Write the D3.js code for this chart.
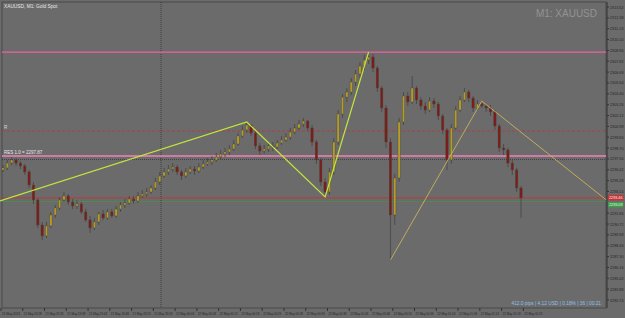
<!DOCTYPE html>
<html>
<head>
<meta charset="utf-8">
<script src="https://cdn.jsdelivr.net/npm/d3@7"></script>
<style>
  body { margin: 0; background: #6b6b6b; }
  svg { display: block; }
  text { font-family: "Liberation Sans", "DejaVu Sans", sans-serif; }
  .tlabel { font-family: "Liberation Sans Narrow", "Liberation Sans", sans-serif; }
</style>
</head>
<body>
<script>
// XAUUSD M1 candles
const opens = [2296.40,2296.61,2297.13,2297.45,2297.13,2296.82,2296.19,2294.82,2293.25,2290.62,
  2289.47,2290.52,2291.67,2292.41,2293.25,2293.67,2293.04,2292.62,2292.83,2291.99,
  2291.15,2290.31,2290.94,2291.78,2291.36,2291.99,2291.57,2292.30,2292.72,2292.93,
  2293.35,2293.14,2293.67,2293.88,2294.09,2294.51,2295.14,2295.77,2296.19,2296.50,
  2296.71,2296.19,2295.77,2296.19,2296.50,2296.29,2296.71,2297.03,2297.24,2297.45,
  2297.76,2298.08,2298.29,2298.60,2299.13,2299.97,2300.60,2301.12,2300.28,2298.92,
  2298.39,2298.60,2298.92,2298.81,2299.23,2299.55,2299.86,2300.39,2300.81,2301.23,
  2301.54,2300.81,2299.34,2297.45,2295.14,2294.09,2296.19,2299.34,2302.28,2304.06,
  2304.59,2305.64,2306.48,2307.32,2307.95,2308.27,2307.11,2305.01,2302.91,2299.34,
  2291.67,2295.56,2301.44,2304.17,2303.54,2305.01,2303.75,2303.12,2302.70,2303.64,
  2303.33,2302.07,2300.60,2297.45,2300.81,2302.70,2303.75,2304.59,2303.96,2302.91,
  2303.33,2303.12,2302.91,2302.49,2301.02,2298.71,2298.50,2297.13,2296.40,2294.51];
const closes = [2296.61,2297.13,2297.45,2297.13,2296.82,2296.19,2294.82,2293.25,2290.62,2289.47,
  2290.52,2291.67,2292.41,2293.25,2293.67,2293.04,2292.62,2292.83,2291.99,2291.15,
  2290.31,2290.94,2291.78,2291.36,2291.99,2291.57,2292.30,2292.72,2292.93,2293.35,
  2293.14,2293.67,2293.88,2294.09,2294.51,2295.14,2295.77,2296.19,2296.50,2296.71,
  2296.19,2295.77,2296.19,2296.50,2296.29,2296.71,2297.03,2297.24,2297.45,2297.76,
  2298.08,2298.29,2298.60,2299.13,2299.97,2300.60,2301.12,2300.28,2298.92,2298.39,
  2298.60,2298.92,2298.81,2299.23,2299.55,2299.86,2300.39,2300.81,2301.23,2301.54,
  2300.81,2299.34,2297.45,2295.14,2294.09,2296.19,2299.34,2302.28,2304.06,2304.59,
  2305.64,2306.48,2307.32,2307.95,2308.27,2307.11,2305.01,2302.91,2299.34,2291.67,
  2295.56,2301.44,2304.17,2303.54,2305.01,2303.75,2303.12,2302.70,2303.64,2303.33,
  2302.07,2300.60,2297.45,2300.81,2302.70,2303.75,2304.59,2303.96,2302.91,2303.33,
  2303.12,2302.91,2302.49,2301.02,2298.71,2298.50,2297.13,2296.40,2294.51,2293.46];
const highs = [2296.92,2297.45,2297.76,2297.66,2297.34,2297.03,2296.40,2295.14,2293.46,2290.94,
  2290.94,2291.99,2292.72,2293.56,2294.09,2293.88,2293.35,2293.25,2293.04,2292.30,
  2291.57,2291.36,2291.99,2292.20,2292.30,2292.30,2292.62,2293.04,2293.35,2293.67,
  2293.67,2294.09,2294.30,2294.51,2294.82,2295.56,2296.19,2296.61,2296.92,2297.13,
  2296.92,2296.40,2296.61,2296.82,2296.82,2297.13,2297.45,2297.66,2297.87,2298.18,
  2298.50,2298.71,2299.02,2299.55,2300.28,2301.02,2301.44,2301.23,2300.60,2299.23,
  2299.02,2299.23,2299.34,2299.55,2299.97,2300.28,2300.81,2301.23,2301.65,2301.86,
  2301.65,2301.12,2299.55,2297.66,2295.56,2296.61,2299.76,2302.70,2304.38,2305.01,
  2306.06,2306.90,2307.74,2308.48,2308.79,2308.58,2307.32,2305.22,2303.22,2299.76,
  2295.98,2301.86,2304.59,2304.59,2306.27,2305.22,2304.06,2303.54,2304.06,2303.96,
  2303.54,2302.28,2300.81,2301.23,2303.12,2304.17,2305.01,2304.80,2304.17,2303.75,
  2303.64,2303.33,2303.22,2302.70,2301.23,2299.13,2298.71,2297.45,2296.61,2294.72];
const lows = [2296.19,2296.40,2296.92,2296.82,2296.50,2295.87,2294.51,2292.83,2290.31,2289.05,
  2289.26,2290.31,2291.36,2292.20,2293.04,2292.72,2292.30,2292.30,2291.78,2290.94,
  2289.78,2290.10,2290.62,2291.15,2291.15,2291.36,2291.36,2291.99,2292.41,2292.72,
  2292.83,2292.93,2293.46,2293.56,2293.88,2294.30,2294.82,2295.56,2295.87,2296.19,
  2295.87,2295.35,2295.56,2295.98,2295.87,2296.08,2296.50,2296.82,2296.92,2297.24,
  2297.45,2297.76,2297.97,2298.39,2298.92,2299.76,2300.28,2299.97,2298.60,2297.97,
  2298.08,2298.29,2298.39,2298.60,2299.02,2299.34,2299.55,2300.18,2300.60,2300.91,
  2300.49,2298.92,2297.03,2294.72,2293.56,2293.77,2295.87,2299.02,2301.86,2303.54,
  2304.27,2305.22,2306.06,2306.90,2307.53,2306.69,2304.59,2302.49,2298.71,2286.94,
  2290.62,2295.14,2301.12,2303.12,2303.33,2303.33,2302.70,2302.28,2302.49,2302.91,
  2301.65,2300.18,2296.40,2297.03,2300.60,2302.49,2303.54,2303.54,2302.49,2302.70,
  2302.91,2302.49,2302.07,2300.60,2298.29,2297.97,2296.71,2295.87,2294.09,2291.36];

// price scale labels (right axis); the one under the bid/ask boxes is hidden in the original
const priceTicks = [2313.52,2312.38,2311.24,2310.10,2308.96,2307.82,2306.68,2305.54,2304.40,2303.26,
  2302.12,2300.98,2299.84,2298.70,2297.56,2296.42,2295.28,2294.14,2291.86,
  2290.72,2289.58,2288.44,2287.30,2286.16,2285.02,2283.88,2282.74];

// time labels, one every 5 bars
const timeLabels = ["21 May 2024","21 May 23:28","21 May 23:33","21 May 23:38","21 May 23:43",
  "21 May 23:48","21 May 23:53","21 May 23:58","22 May 00:03","22 May 00:08","22 May 00:13",
  "22 May 00:18","22 May 00:23","22 May 00:28","22 May 00:33","22 May 00:38","22 May 00:43",
  "22 May 00:48","22 May 00:53","22 May 00:58","22 May 01:03","22 May 01:08","22 May 01:13",
  "22 May 01:18","22 May 01:23"];

// zigzag trend lines: [bar index, price]
const greenZigzag = [[-0.7, 2293.14], [56, 2301.44], [74, 2293.56], [84, 2308.79]];
const khakiZigzag = [[89, 2286.94], [110, 2303.64], [138.6, 2293.25]];

const resistanceTop = 2308.79;
const resistanceMid = 2297.87;
const prevLevel = 2297.60;
const dashedLevel = 2300.49;
const bidPrice = 2293.46;
const askPrice = 2293.09;
const separatorBar = 36.3;

const W = 625, H = 318;
const pLeft = 2, pRight = 606, pTop = 2, pBottom = 308;

const svg = d3.select("body").append("svg")
    .attr("width", W)
    .attr("height", H);

svg.append("rect")
    .attr("width", W).attr("height", H)
    .attr("fill", "#6b6b6b");

let x = d3.scaleLinear()
    .domain([0, closes.length - 1])
    .range([3, 521]);

let y = d3.scaleLinear()
    .domain([2282.74, 2313.52])
    .range([300, 7]);

// frame
svg.append("rect")
    .attr("x", pLeft).attr("y", pTop)
    .attr("width", pRight - pLeft).attr("height", pBottom - pTop)
    .attr("fill", "none")
    .attr("stroke", "#4a4a4a")
    .attr("stroke-width", 1);

let plot = svg.append("g");

// day separator
plot.append("line")
    .attr("x1", x(separatorBar)).attr("x2", x(separatorBar))
    .attr("y1", pTop).attr("y2", pBottom)
    .attr("stroke", "#3c3c3c")
    .attr("stroke-dasharray", "1,1");

// horizontal levels
plot.append("line")
    .attr("x1", pLeft).attr("x2", pRight)
    .attr("y1", y(resistanceTop)).attr("y2", y(resistanceTop))
    .attr("stroke", "#ef5f9f").attr("stroke-width", 1.3);

plot.append("line")
    .attr("x1", pLeft).attr("x2", pRight)
    .attr("y1", y(dashedLevel)).attr("y2", y(dashedLevel))
    .attr("stroke", "#b83a3a").attr("stroke-width", 0.8)
    .attr("stroke-dasharray", "3,2");

plot.append("line")
    .attr("x1", pLeft).attr("x2", pRight)
    .attr("y1", y(resistanceMid)).attr("y2", y(resistanceMid))
    .attr("stroke", "#d27aa6").attr("stroke-width", 2);

plot.append("line")
    .attr("x1", pLeft).attr("x2", pRight)
    .attr("y1", y(prevLevel) + 1).attr("y2", y(prevLevel) + 1)
    .attr("stroke", "#353535").attr("stroke-width", 0.8)
    .attr("stroke-dasharray", "1,1");

plot.append("text")
    .attr("x", 4).attr("y", y(dashedLevel) - 2)
    .attr("font-size", 4.5).attr("fill", "#dcdcdc")
    .text("R");

plot.append("text")
    .attr("x", 4).attr("y", y(resistanceMid) - 2)
    .attr("font-size", 4.5).attr("fill", "#e6e6e6")
    .text("RES 1.0 = " + resistanceMid.toFixed(2));

// bid / ask lines
plot.append("line")
    .attr("x1", pLeft).attr("x2", pRight)
    .attr("y1", y(bidPrice)).attr("y2", y(bidPrice))
    .attr("stroke", "#c83232").attr("stroke-width", 0.9);

plot.append("line")
    .attr("x1", pLeft).attr("x2", pRight)
    .attr("y1", y(askPrice)).attr("y2", y(askPrice))
    .attr("stroke", "#3f9a4a").attr("stroke-width", 0.7);

// candles
let candles = plot.append("g").attr("class", "candles")
    .selectAll("g")
    .data(closes)
    .enter()
    .append("g");

candles.append("line")
    .attr("x1", (d, i) => x(i)).attr("x2", (d, i) => x(i))
    .attr("y1", (d, i) => y(highs[i]))
    .attr("y2", (d, i) => y(lows[i]))
    .attr("stroke", "#444")
    .attr("stroke-width", 0.8);

candles.append("rect")
    .attr("x", (d, i) => x(i) - 1.2)
    .attr("width", 2.4)
    .attr("y", (d, i) => y(Math.max(opens[i], d)))
    .attr("height", (d, i) => Math.max(0.8, Math.abs(y(opens[i]) - y(d))))
    .attr("fill", (d, i) => d >= opens[i] ? "#b49b2c" : "#7c1c1c")
    .attr("stroke", "#4a4a3a")
    .attr("stroke-width", 0.4);

// zigzags
let line = d3.line()
    .x(d => x(d[0]))
    .y(d => y(d[1]));

plot.append("path")
    .datum(greenZigzag)
    .attr("d", line)
    .attr("fill", "none")
    .attr("stroke", "#c3e63a")
    .attr("stroke-width", 1.2);

plot.append("path")
    .datum(khakiZigzag)
    .attr("d", line)
    .attr("fill", "none")
    .attr("stroke", "#c9b35a")
    .attr("stroke-width", 0.9);

// right axis
let axisG = svg.append("g");
axisG.append("line")
    .attr("x1", pRight + 1).attr("x2", pRight + 1)
    .attr("y1", pTop).attr("y2", pBottom)
    .attr("stroke", "#333");

axisG.selectAll("g.tick")
    .data(priceTicks)
    .enter()
    .append("g")
    .attr("class", "tick")
    .each(function (d) {
        let g = d3.select(this);
        g.append("line")
            .attr("x1", pRight + 1).attr("x2", pRight + 3)
            .attr("y1", y(d)).attr("y2", y(d))
            .attr("stroke", "#333");
        g.append("text")
            .attr("x", pRight + 4).attr("y", y(d) + 1.5)
            .attr("font-size", 4.2).attr("fill", "#262626")
            .attr("textLength", 13.5)
            .attr("lengthAdjust", "spacingAndGlyphs")
            .text(d.toFixed(2));
    });

// bid / ask price boxes
axisG.append("rect")
    .attr("x", pRight + 2).attr("y", y(bidPrice) - 3)
    .attr("width", 15.5).attr("height", 5.5)
    .attr("fill", "#c83232");
axisG.append("text")
    .attr("x", pRight + 3).attr("y", y(bidPrice) + 1.3)
    .attr("font-size", 4.2).attr("fill", "#f2f2f2")
    .attr("textLength", 13.5)
    .attr("lengthAdjust", "spacingAndGlyphs")
    .text(bidPrice.toFixed(2));

axisG.append("rect")
    .attr("x", pRight + 2).attr("y", y(askPrice) + 0.5)
    .attr("width", 15.5).attr("height", 5.5)
    .attr("fill", "#3f9a4a");
axisG.append("text")
    .attr("x", pRight + 3).attr("y", y(askPrice) + 4.8)
    .attr("font-size", 4.2).attr("fill", "#f2f2f2")
    .attr("textLength", 13.5)
    .attr("lengthAdjust", "spacingAndGlyphs")
    .text(askPrice.toFixed(2));

// time axis
let timeG = svg.append("g");
timeG.selectAll("g")
    .data(timeLabels)
    .enter()
    .append("g")
    .each(function (d, i) {
        let g = d3.select(this);
        let tx = x(i * 5) - 2;
        g.append("line")
            .attr("x1", tx).attr("x2", tx)
            .attr("y1", pBottom).attr("y2", pBottom + 3)
            .attr("stroke", "#333");
        g.append("text")
            .attr("class", "tlabel")
            .attr("x", tx + 1).attr("y", pBottom + 6.5)
            .attr("font-size", 3.6).attr("fill", "#262626")
            .attr("textLength", 18)
            .attr("lengthAdjust", "spacingAndGlyphs")
            .text(d);
    });

// titles
svg.append("text")
    .attr("x", 4).attr("y", 8)
    .attr("font-size", 4.8).attr("fill", "#e8e8e8")
    .text("XAUUSD, M1:  Gold Spot");

svg.append("text")
    .attr("x", 597).attr("y", 17)
    .attr("text-anchor", "end")
    .attr("font-size", 10).attr("fill", "#939393")
    .text("M1: XAUUSD");

svg.append("text")
    .attr("x", 601).attr("y", 305)
    .attr("text-anchor", "end")
    .attr("font-size", 4.8).attr("fill", "#8fc0e8")
    .text("412.0 pips | 4.12 USD | 0.18% | 36 | 00:21");
</script>
</body>
</html>
